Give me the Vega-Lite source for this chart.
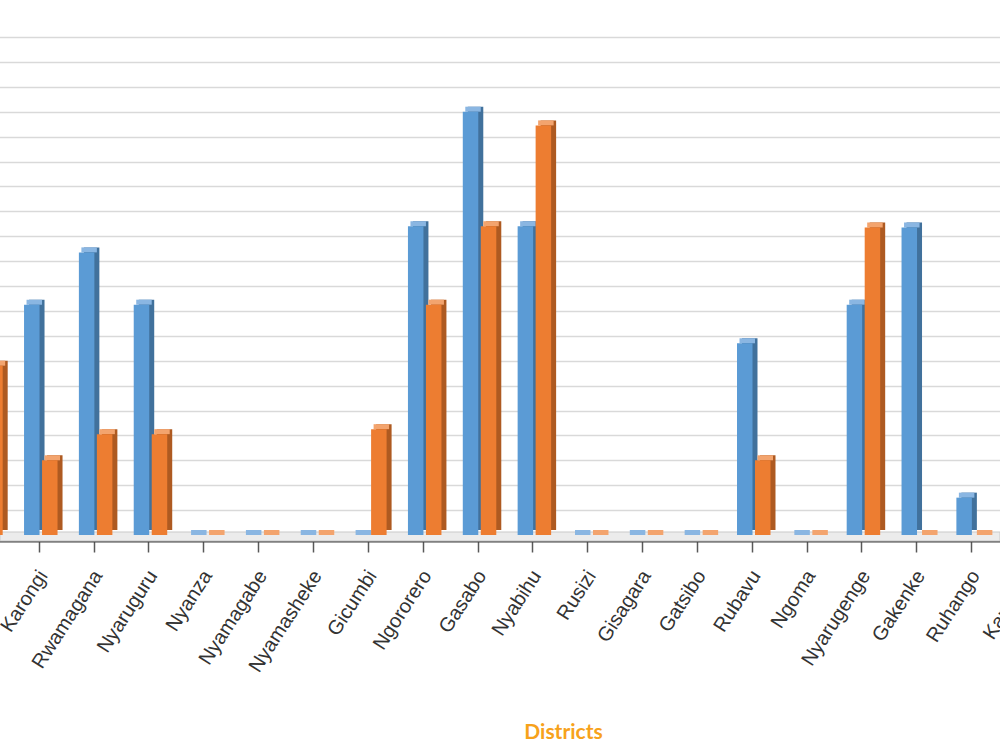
{
  "$schema": "https://vega.github.io/schema/vega-lite/v6.json",
  "width": 1000,
  "height": 498,
  "autosize": {"type": "none"},
  "padding": {"top": 37, "left": 0, "right": 0, "bottom": 215},
  "background": "white",
  "config": {
    "view": {"stroke": null},
    "axisX": {
      "titleColor": "#F7A21B", "titleFont": "Lato", "titleFontSize": 21, "titleFontWeight": "bold",
      "titleX": 563, "titleY": 197, "titleAlign": "center", "titleBaseline": "alphabetic",
      "labelAngle": -57, "labelFont": "Liberation Sans", "labelFontSize": 20, "labelColor": "#333333",
      "labelPadding": 20, "labelOffset": 4,
      "offset": 6, "domainColor": "#404040", "domainWidth": 2, "tickColor": "#595959", "tickSize": 11, "tickWidth": 1.5,
      "grid": false, "zindex": 1
    },
    "axisY": {
      "grid": true, "gridColor": "#D9D9D9", "gridWidth": 1.5, "labels": false, "ticks": false, "domain": false,
      "tickCount": 20, "zindex": 0
    }
  },
  "datasets": {
    "districts": [
      {"district": "Huye", "series": "Series 2", "value": 6.8},
      {"district": "Karongi", "series": "Series 1", "value": 9.25},
      {"district": "Karongi", "series": "Series 2", "value": 3.0},
      {"district": "Rwamagana", "series": "Series 1", "value": 11.35},
      {"district": "Rwamagana", "series": "Series 2", "value": 4.05},
      {"district": "Nyaruguru", "series": "Series 1", "value": 9.25},
      {"district": "Nyaruguru", "series": "Series 2", "value": 4.05},
      {"district": "Nyanza", "series": "Series 1", "value": 0},
      {"district": "Nyanza", "series": "Series 2", "value": 0},
      {"district": "Nyamagabe", "series": "Series 1", "value": 0},
      {"district": "Nyamagabe", "series": "Series 2", "value": 0},
      {"district": "Nyamasheke", "series": "Series 1", "value": 0},
      {"district": "Nyamasheke", "series": "Series 2", "value": 0},
      {"district": "Gicumbi", "series": "Series 1", "value": 0},
      {"district": "Gicumbi", "series": "Series 2", "value": 4.25},
      {"district": "Ngororero", "series": "Series 1", "value": 12.4},
      {"district": "Ngororero", "series": "Series 2", "value": 9.25},
      {"district": "Gasabo", "series": "Series 1", "value": 17.0},
      {"district": "Gasabo", "series": "Series 2", "value": 12.4},
      {"district": "Nyabihu", "series": "Series 1", "value": 12.4},
      {"district": "Nyabihu", "series": "Series 2", "value": 16.45},
      {"district": "Rusizi", "series": "Series 1", "value": 0},
      {"district": "Rusizi", "series": "Series 2", "value": 0},
      {"district": "Gisagara", "series": "Series 1", "value": 0},
      {"district": "Gisagara", "series": "Series 2", "value": 0},
      {"district": "Gatsibo", "series": "Series 1", "value": 0},
      {"district": "Gatsibo", "series": "Series 2", "value": 0},
      {"district": "Rubavu", "series": "Series 1", "value": 7.7},
      {"district": "Rubavu", "series": "Series 2", "value": 3.0},
      {"district": "Ngoma", "series": "Series 1", "value": 0},
      {"district": "Ngoma", "series": "Series 2", "value": 0},
      {"district": "Nyarugenge", "series": "Series 1", "value": 9.25},
      {"district": "Nyarugenge", "series": "Series 2", "value": 12.35},
      {"district": "Gakenke", "series": "Series 1", "value": 12.35},
      {"district": "Gakenke", "series": "Series 2", "value": 0},
      {"district": "Ruhango", "series": "Series 1", "value": 1.5},
      {"district": "Ruhango", "series": "Series 2", "value": 0}
    ]
  },
  "layer": [
    {
      "data": {"values": [{}]},
      "mark": {"type": "rect", "fill": "#ECECEC", "stroke": "#C9C9C9", "strokeWidth": 1},
      "encoding": {
        "y": {"datum": 0.12, "type": "quantitative", "scale": {"domain": [0, 20], "nice": false}, "title": null},
        "y2": {"datum": -0.24}
      }
    },
    {
      "data": {"name": "districts"},
      "mark": {"type": "bar", "yOffset": -5},
      "encoding": {
        "x": {"field": "district", "type": "nominal", "title": "Districts",
          "scale": {"domain": ["Huye", "Karongi", "Rwamagana", "Nyaruguru", "Nyanza", "Nyamagabe", "Nyamasheke", "Gicumbi", "Ngororero", "Gasabo", "Nyabihu", "Rusizi", "Gisagara", "Gatsibo", "Rubavu", "Ngoma", "Nyarugenge", "Gakenke", "Ruhango", "Kamonyi"],
            "range": [-42.97, 1053.9], "paddingInner": 0, "paddingOuter": 0}},
        "xOffset": {"field": "series", "type": "nominal", "scale": {"domain": ["Series 1", "Series 2"], "paddingInner": 0.139, "paddingOuter": 0.593, "align": 0.804}},
        "y": {"field": "value", "type": "quantitative", "title": null},
        "color": {"field": "series", "type": "nominal", "scale": {"domain": ["Series 1", "Series 2"], "range": ["#41719C", "#AE5A21"]}, "legend": null}
      }
    },
    {
      "data": {"name": "districts"},
      "mark": {"type": "tick", "thickness": 5, "size": 15.5, "yOffset": -2.5, "opacity": 1},
      "encoding": {
        "x": {"field": "district", "type": "nominal", "title": "Districts"},
        "xOffset": {"field": "series", "type": "nominal", "scale": {"domain": ["Series 1", "Series 2"], "paddingInner": 0.139, "paddingOuter": 0.593, "align": 0.687}},
        "y": {"field": "value", "type": "quantitative", "title": null},
        "color": {"field": "series", "type": "nominal", "scale": {"domain": ["Series 1", "Series 2"], "range": ["#8AB6E2", "#F3A46E"]}, "legend": null}
      }
    },
    {
      "data": {"name": "districts"},
      "mark": {"type": "bar"},
      "encoding": {
        "x": {"field": "district", "type": "nominal", "title": "Districts"},
        "xOffset": {"field": "series", "type": "nominal", "scale": {"domain": ["Series 1", "Series 2"], "paddingInner": 0.139, "paddingOuter": 0.593, "align": 0.57}},
        "y": {"field": "value", "type": "quantitative", "title": null},
        "color": {"field": "series", "type": "nominal", "scale": {"domain": ["Series 1", "Series 2"], "range": ["#5B9BD5", "#ED7D31"]}, "legend": null}
      }
    }
  ],
  "resolve": {"scale": {"color": "independent", "xOffset": "independent"}}
}
